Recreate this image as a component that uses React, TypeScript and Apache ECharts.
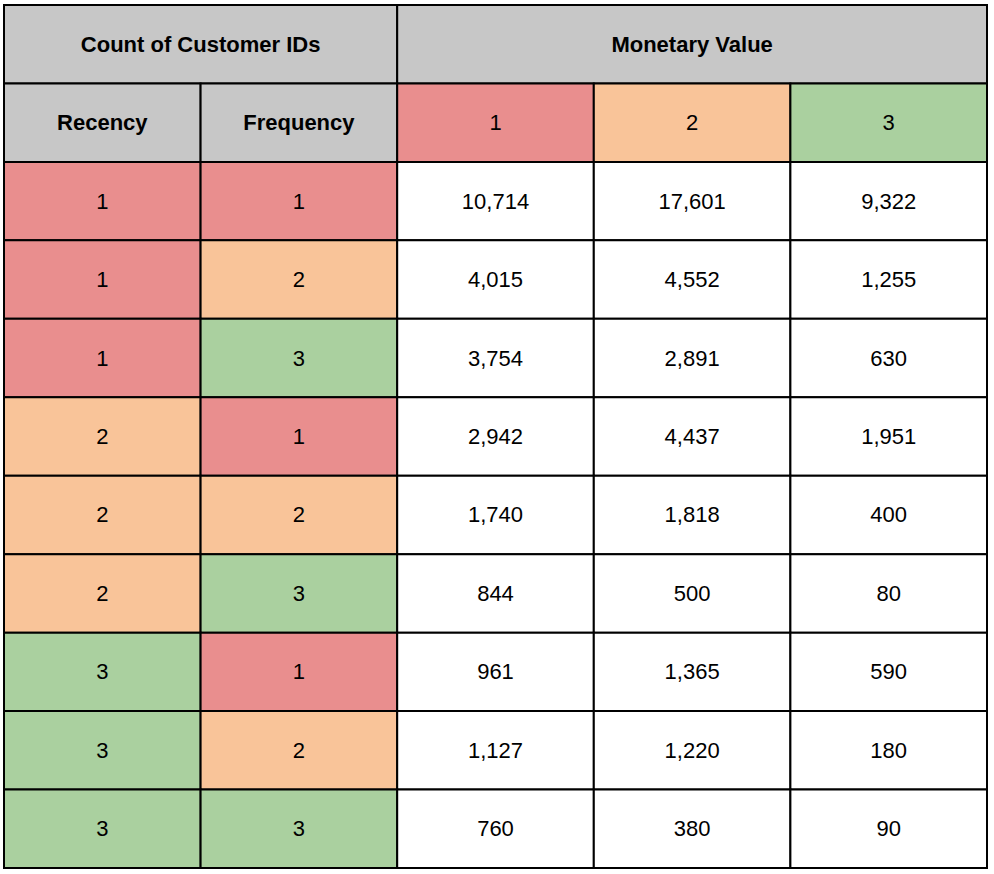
import React, { useEffect, useRef } from "react";
import * as echarts from "echarts";

const topHeaders = ["Count of Customer IDs", "Monetary Value"];
const subHeaders = ["Recency", "Frequency"];
const monetaryScores = [1, 2, 3];
const recency = [1, 1, 1, 2, 2, 2, 3, 3, 3];
const frequency = [1, 2, 3, 1, 2, 3, 1, 2, 3];
const monetary1 = [10714, 4015, 3754, 2942, 1740, 844, 961, 1127, 760];
const monetary2 = [17601, 4552, 2891, 4437, 1818, 500, 1365, 1220, 380];
const monetary3 = [9322, 1255, 630, 1951, 400, 80, 590, 180, 90];

const scoreColors: Record<number, string> = { 1: "#E98E8E", 2: "#F9C499", 3: "#AAD09F" };
const headerGray = "#C7C7C7";

type Cell = { col: number; row: number; cs: number; rs: number; text: string; fill: string; bold: boolean };

function buildCells(): Cell[] {
  const cells: Cell[] = [];
  cells.push({ col: 0, row: 0, cs: 2, rs: 1, text: topHeaders[0], fill: headerGray, bold: true });
  cells.push({ col: 2, row: 0, cs: 3, rs: 1, text: topHeaders[1], fill: headerGray, bold: true });
  subHeaders.forEach((h, i) => cells.push({ col: i, row: 1, cs: 1, rs: 1, text: h, fill: headerGray, bold: true }));
  monetaryScores.forEach((m, i) =>
    cells.push({ col: 2 + i, row: 1, cs: 1, rs: 1, text: String(m), fill: scoreColors[m], bold: false })
  );
  const cols = [monetary1, monetary2, monetary3];
  recency.forEach((r, i) => {
    const row = 2 + i;
    cells.push({ col: 0, row, cs: 1, rs: 1, text: String(r), fill: scoreColors[r], bold: false });
    const f = frequency[i];
    cells.push({ col: 1, row, cs: 1, rs: 1, text: String(f), fill: scoreColors[f], bold: false });
    cols.forEach((arr, j) =>
      cells.push({ col: 2 + j, row, cs: 1, rs: 1, text: arr[i].toLocaleString("en-US"), fill: "#FFFFFF", bold: false })
    );
  });
  return cells;
}

export default function App() {
  const ref = useRef<HTMLDivElement>(null);
  useEffect(() => {
    if (!ref.current) return;
    const chart = echarts.init(ref.current, undefined, { renderer: "svg" });
    const cells = buildCells();
    const nRows = 2 + recency.length;
    chart.setOption({
      animation: false,
      grid: { left: 4, top: 5, right: 7, bottom: 6 },
      xAxis: { type: "value", min: 0, max: 5, show: false },
      yAxis: { type: "value", min: 0, max: nRows, inverse: true, show: false },
      series: [
        {
          type: "custom",
          coordinateSystem: "cartesian2d",
          data: cells.map((c) => [c.col, c.row, c.cs, c.rs]),
          renderItem: (params: any, api: any) => {
            const c = cells[params.dataIndex];
            const p0 = api.coord([c.col, c.row]);
            const p1 = api.coord([c.col + c.cs, c.row + c.rs]);
            const x = Math.min(p0[0], p1[0]);
            const y = Math.min(p0[1], p1[1]);
            const w = Math.abs(p1[0] - p0[0]);
            const h = Math.abs(p1[1] - p0[1]);
            return {
              type: "group",
              children: [
                {
                  type: "rect",
                  shape: { x, y, width: w, height: h },
                  style: { fill: c.fill, stroke: "#000000", lineWidth: 2 },
                },
                {
                  type: "text",
                  x: x + w / 2,
                  y: y + h / 2,
                  style: {
                    text: c.text,
                    align: "center",
                    verticalAlign: "middle",
                    fill: "#000000",
                    fontFamily: "Liberation Sans, Arial, sans-serif",
                    fontSize: 22,
                    fontWeight: c.bold ? "bold" : "normal",
                  },
                },
              ],
            };
          },
        },
      ],
    });
    return () => chart.dispose();
  }, []);
  return (
    <div
      ref={ref}
      style={{ position: "fixed", left: 0, top: 0, width: 994, height: 874, background: "#FFFFFF" }}
    />
  );
}
